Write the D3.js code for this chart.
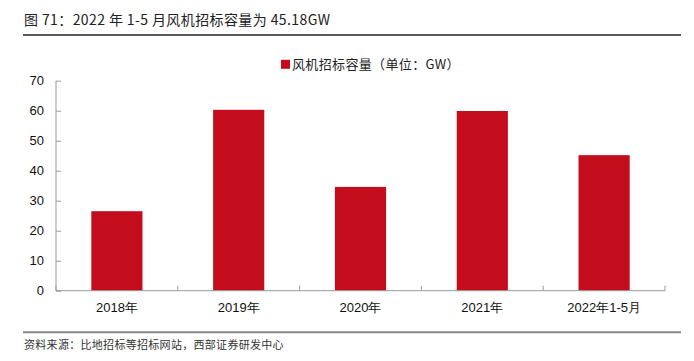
<!DOCTYPE html>
<html>
<head>
<meta charset="utf-8">
<script src="https://cdn.jsdelivr.net/npm/d3@7"></script>
<style>
  body { margin: 0; background: #fff; }
  text { font-family: "Liberation Sans", Arial, sans-serif; }
  .cjk { font-family: "Noto Sans CJK SC", sans-serif; }
</style>
</head>
<body>
<div id="chart-container"></div>
<script>
  // Chart data
  var categories = ['2018年', '2019年', '2020年', '2021年', '2022年1-5月'];
  var values = [26.5, 60.3, 34.6, 59.9, 45.18];
  var yTicks = [0, 10, 20, 30, 40, 50, 60, 70];
  var seriesName = '风机招标容量（单位：GW）';
  var title = '图 71：2022 年 1-5 月风机招标容量为 45.18GW';
  var source = '资料来源：比地招标等招标网站，西部证券研发中心';

  var color = '#C30D1D';
  var W = 694, H = 361;
  var margin = { left: 56, right: 29, top: 80.7, bottom: 70.3 };
  var width = W - margin.left - margin.right;
  var height = H - margin.top - margin.bottom;

  var svg = d3.select("#chart-container")
    .append("svg")
    .attr("width", W)
    .attr("height", H);

  // title + rules
  svg.append("text")
    .attr("class", "cjk")
    .attr("x", 24).attr("y", 25)
    .attr("font-size", 14).attr("fill", "#222")
    .attr("letter-spacing", 0.4)
    .text(title);
  svg.append("line")
    .attr("x1", 23).attr("x2", 681).attr("y1", 35).attr("y2", 35)
    .attr("stroke", "#222").attr("stroke-width", 1.5);
  svg.append("line")
    .attr("x1", 23).attr("x2", 681).attr("y1", 332.3).attr("y2", 332.3)
    .attr("stroke", "#888").attr("stroke-width", 2);
  svg.append("text")
    .attr("class", "cjk")
    .attr("x", 24).attr("y", 349)
    .attr("font-size", 11).attr("fill", "#333")
    .attr("letter-spacing", 0.3)
    .text(source);

  var g = svg.append("g")
    .attr("transform", "translate(" + margin.left + "," + margin.top + ")");

  var xScale = d3.scaleBand()
    .domain(categories)
    .range([0, width])
    .paddingInner(0.58)
    .paddingOuter(0.29);

  var yScale = d3.scaleLinear()
    .domain([0, 70])
    .range([height, 0]);

  // y axis
  var yAxis = d3.axisLeft(yScale).tickValues(yTicks).tickSize(5).tickPadding(6);
  var yg = g.append("g").attr("class", "y axis").call(yAxis);
  yg.select(".domain").attr("stroke", "#999").attr("d", "M0," + height + "V0");
  yg.selectAll(".tick line").attr("stroke", "#999").attr("x2", 5).attr("x1", 0);
  yg.selectAll(".tick text").attr("font-size", 13).attr("fill", "#111")
    .attr("font-family", "Liberation Sans, Arial, sans-serif").attr("x", -12);

  // bars
  g.selectAll("rect.bar")
    .data(values)
    .enter()
    .append("rect")
    .attr("class", "bar")
    .attr("x", function(d, i) { return xScale(categories[i]); })
    .attr("y", function(d) { return yScale(d); })
    .attr("width", xScale.bandwidth())
    .attr("height", function(d) { return height - yScale(d); })
    .attr("fill", color);

  // x axis: line with upward ticks at band boundaries
  var step = xScale.step();
  g.append("line")
    .attr("x1", 0).attr("x2", width).attr("y1", height).attr("y2", height)
    .attr("stroke", "#999");
  g.selectAll(".xtick")
    .data(d3.range(categories.length + 1))
    .enter()
    .append("line")
    .attr("class", "xtick")
    .attr("x1", function(i) { return i * step; })
    .attr("x2", function(i) { return i * step; })
    .attr("y1", height).attr("y2", height - 5)
    .attr("stroke", "#999");
  g.selectAll(".xlabel")
    .data(categories)
    .enter()
    .append("text")
    .attr("class", "xlabel")
    .attr("x", function(d) { return xScale(d) + xScale.bandwidth() / 2; })
    .attr("y", height + 21)
    .attr("text-anchor", "middle")
    .attr("font-size", 13).attr("fill", "#111")
    .text(function(d) { return d; });

  // legend
  svg.append("rect")
    .attr("x", 281).attr("y", 59.8).attr("width", 9).attr("height", 9)
    .attr("fill", color);
  svg.append("text")
    .attr("class", "cjk")
    .attr("x", 292).attr("y", 69)
    .attr("font-size", 13).attr("fill", "#222")
    .attr("letter-spacing", 0.35)
    .text(seriesName);
</script>
</body>
</html>
